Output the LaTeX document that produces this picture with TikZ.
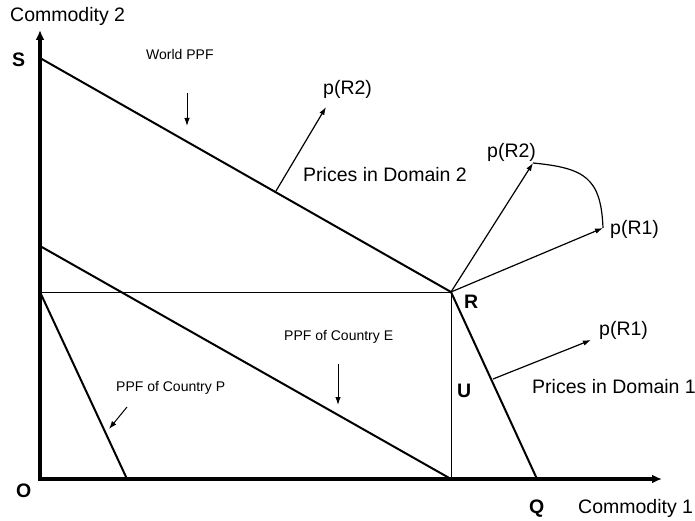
\documentclass[tikz,border=0pt]{standalone}
\usepackage{fontspec}
\setmainfont{Liberation Sans}
\usetikzlibrary{positioning,calc,arrows.meta}

\begin{document}
\begin{tikzpicture}[x=1pt, y=1pt, >={Latex[length=8pt,width=5.5pt]},
    axis/.style={line width=3.5pt, line join=miter, {Latex[length=10pt,width=9pt]}-{Latex[length=10pt,width=9pt]}},
    ppf/.style={line width=2pt},
    guide/.style={line width=0.8pt},
    pointer/.style={->, line width=1.2pt},
    lbl/.style={font=\fontsize{19.5}{22}\selectfont, inner sep=0pt, anchor=base west},
    small/.style={font=\fontsize{14}{16}\selectfont, inner sep=0pt, anchor=base west},
    pnt/.style={font=\fontsize{19.5}{22}\selectfont\bfseries, inner sep=0pt, anchor=base west}]
    \useasboundingbox (-40,-41) rectangle (655,479);

    % corner points
    \coordinate (O) at (0,0);
    \coordinate (Ytop) at (0,449);
    \coordinate (Xend) at (622,0);
    \coordinate (S) at (0,421);
    \coordinate (R) at (411,187);
    \coordinate (Q) at (497,0);
    \coordinate (Ry) at (0,187);
    \coordinate (Rx) at (411,0);
    \coordinate (E0) at (0,233);
    \coordinate (P1) at (87,0);

    \draw[axis] (Ytop) -- (O) -- (Xend);
    \draw[guide] (Ry) -- (R) -- (Rx);
    \draw[ppf] (S) -- (R) -- (Q);
    \draw[ppf] (E0) -- (Rx);
    \draw[ppf] (Ry) -- (P1);

    % labels
    \node[lbl] (c2) at (-30,457) {Commodity 2};
    \node[lbl] (c1) at (538,-34) {Commodity 1};
    \node[pnt] (lS) at (-28,412) {S};
    \node[pnt] (lO) at (-24,-18) {O};
    \node[pnt] (lQ) at (489,-34) {Q};
    \node[pnt] (lR) at (424,171) {R};
    \node[pnt] (lU) at (417,82) {U};

    \node[small] (world) at (106,419) {World PPF};
    \node[small] (ppfE) at (244,139) {PPF of Country E};
    \node[small] (ppfP) at (76,88) {PPF of Country P};

    \coordinate (w1) at (147,386);  \coordinate (w2) at (147,353);
    \coordinate (e1) at (298,115);  \coordinate (e2) at (298,74);
    \coordinate (p1) at (87,72);    \coordinate (p2) at (69,50);
    \draw[->, line width=1pt] (w1) -- (w2);
    \draw[->, line width=1pt] (e1) -- (e2);
    \draw[->, line width=1pt] (p1) -- (p2);

    % price vectors
    \coordinate (d2a) at (236,288); \coordinate (d2b) at (286,372);
    \coordinate (d1a) at (453,100); \coordinate (d1b) at (551,139);
    \coordinate (r2) at (493,316);  \coordinate (r1) at (563,251);

    \draw[pointer] (d2a) -- (d2b);
    \draw[pointer] (d1a) -- (d1b);
    \draw[pointer] (R) -- (r2);
    \draw[pointer] (R) -- (r1);
    \draw[line width=1.2pt] (r2) .. controls (545,311) and (561,301) .. (r1);

    \node[lbl] (pR2a) at (283,384) {p(R2)};
    \node[lbl] (dom2) at (263,297) {Prices in Domain 2};
    \node[lbl] (pR2b) at (447,321) {p(R2)};
    \node[lbl] (pR1a) at (570,245) {p(R1)};
    \node[lbl] (pR1b) at (559,144) {p(R1)};
    \node[lbl] (dom1) at (492,86) {Prices in Domain 1};
\end{tikzpicture}
\end{document}
